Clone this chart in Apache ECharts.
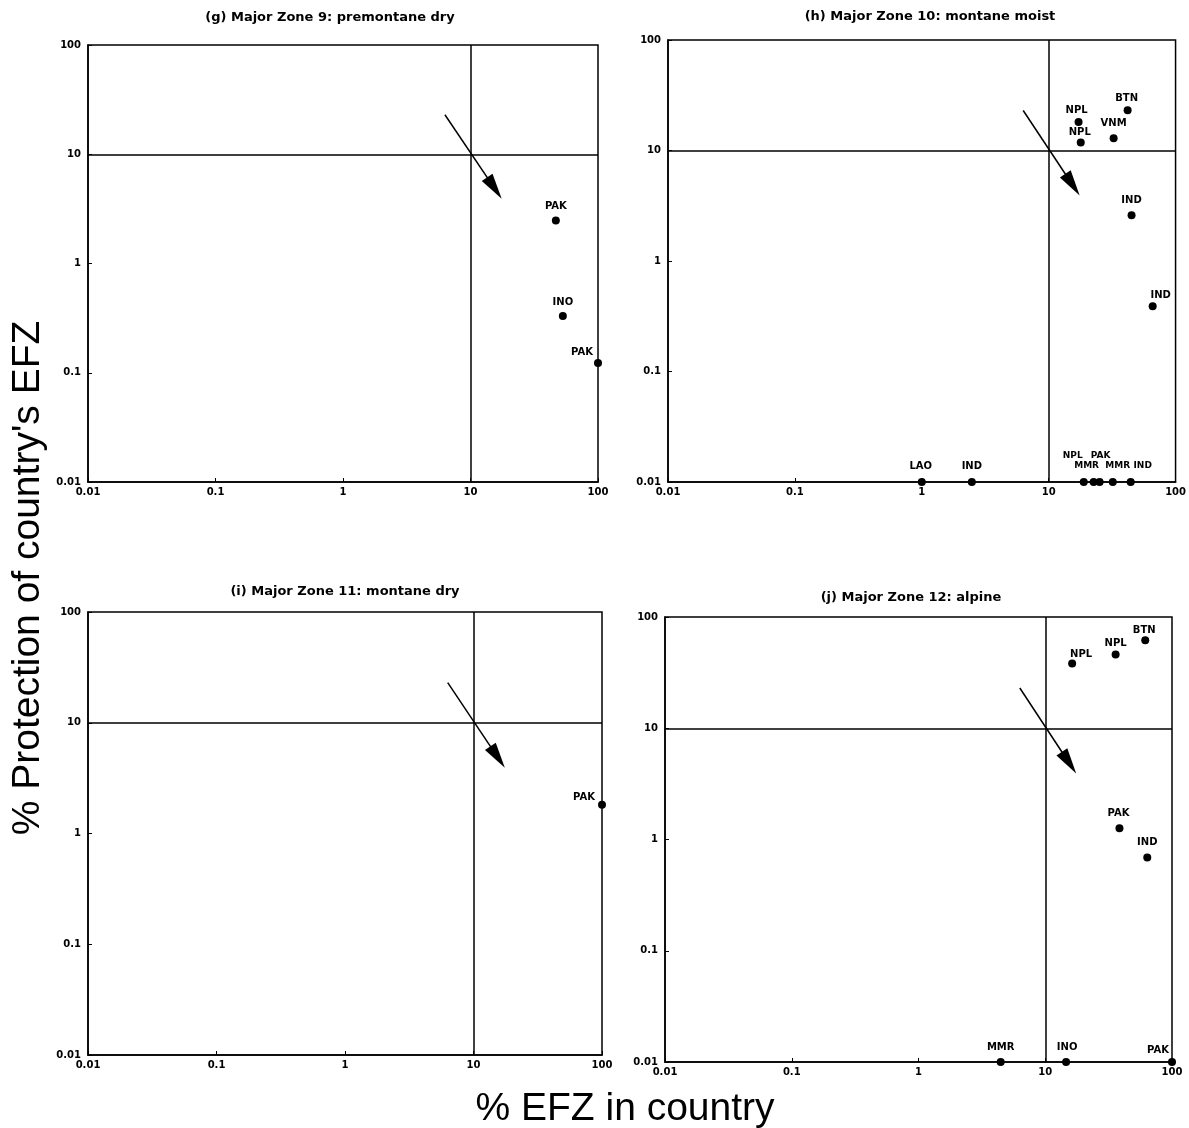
<!DOCTYPE html>
<html><head><meta charset="utf-8">
<script src="https://cdn.jsdelivr.net/npm/echarts@6/dist/echarts.min.js"></script>
<style>html,body{margin:0;padding:0;background:#fff}#c{width:1189px;height:1128px}</style>
</head><body><div id="c"></div>
<script>
// ---- data ----
const tickLabels = ['0.01', '0.1', '1', '10', '100'];
const threshold = 10;
const arrowFrom = [6.3, 23];
const arrowTo = [15.4, 4.9];

const titles = ['(g) Major Zone 9: premontane dry', '(h) Major Zone 10: montane moist',
                '(i) Major Zone 11: montane dry', '(j) Major Zone 12: alpine'];

const gX = [46.7, 53, 100];
const gY = [2.47, 0.33, 0.123];
const gLabels = ['PAK', 'INO', 'PAK'];

const hX = [17.2, 17.9, 41.9, 32.5, 45, 66, 1, 2.48, 18.9, 22.6, 25.2, 32, 44.3];
const hY = [18.1, 11.8, 23.1, 12.9, 2.6, 0.39, 0.01, 0.01, 0.01, 0.01, 0.01, 0.01, 0.01];
const hLabels = ['NPL', 'NPL', 'BTN', 'VNM', 'IND', 'IND', 'LAO', 'IND', 'NPL', 'MMR', 'PAK', 'MMR', 'IND'];

const iX = [100];
const iY = [1.82];
const iLabels = ['PAK'];

const jX = [16.3, 35.9, 61.5, 38.5, 63.8, 4.45, 14.6, 100];
const jY = [38.2, 46.1, 61.7, 1.26, 0.69, 0.01, 0.01, 0.01];
const jLabels = ['NPL', 'NPL', 'BTN', 'PAK', 'IND', 'MMR', 'INO', 'PAK'];

// ---- layout / style (not data) ----
const grids = [
  {left: 88, top: 45, width: 510, height: 437},
  {left: 668, top: 40, width: 509, height: 442},
  {left: 88, top: 612, width: 514, height: 443},
  {left: 665, top: 617, width: 507, height: 445}
];
const titlePos = [[330, 18], [930, 17], [345, 592], [911, 598]];
const labelOffsets = [
  [[0, -14], [0, -14], [-16, -11]],
  [[-2, -12], [-1, -10], [-1, -12], [0, -15], [0, -15], [8, -11],
   [-1, -16], [0, -16], [-11, -26], [-7, -16], [1, -26], [5, -16], [12, -16]],
  [[-18, -7]],
  [[9, -9], [0, -11], [-1, -10], [-1, -15], [0, -15], [0, -15], [1, -15], [-14, -12]]
];
const panels = [[gX, gY, gLabels], [hX, hY, hLabels], [iX, iY, iLabels], [jX, jY, jLabels]];

const tickFont = {fontFamily: 'DejaVu Sans', fontWeight: 'bold', fontSize: 10, color: '#000'};
function fmt(v) {
  const k = Math.round(Math.log10(v)) + 2;
  return tickLabels[k] !== undefined ? tickLabels[k] : '';
}
function axis(idx, isX) {
  return {
    type: 'log', logBase: 10, min: 0.01, max: 100, gridIndex: idx,
    axisLine: {show: true, lineStyle: {color: '#000', width: 1.5}},
    axisTick: {show: true, inside: true, length: 4, lineStyle: {color: '#000', width: 1}},
    minorTick: {show: false},
    splitLine: {show: false},
    axisLabel: Object.assign({formatter: fmt, margin: isX ? 5 : 7, showMinLabel: true, showMaxLabel: true}, tickFont)
  };
}

const lineSt = {color: '#000', width: 1.5, type: 'solid'};
const series = panels.map((p, idx) => {
  const [xs, ys, labs] = p;
  const data = xs.map((x, k) => ({
    value: [x, ys[k]],
    label: {
      show: true, formatter: labs[k], position: 'inside', offset: labelOffsets[idx][k],
      fontFamily: 'DejaVu Sans', fontWeight: 'bold', fontSize: (idx === 1 && ys[k] <= 0.01 && xs[k] > 10) ? 9 : 10, color: '#000'
    }
  }));
  return {
    type: 'scatter', xAxisIndex: idx, yAxisIndex: idx, clip: false,
    symbol: 'circle', symbolSize: 8, itemStyle: {color: '#000', opacity: 1},
    data: data,
    markLine: {
      silent: true, animation: false, precision: 4,
      symbol: ['none', 'none'],
      label: {show: false},
      lineStyle: lineSt,
      data: [
        {xAxis: threshold},
        {yAxis: threshold},
        [{coord: arrowFrom, symbol: 'none'},
         {coord: arrowTo, symbol: 'triangle', symbolSize: [13, 26]}]
      ]
    }
  };
});

const graphics = titles.map((t, k) => ({
  type: 'text', x: titlePos[k][0], y: titlePos[k][1],
  style: {text: t, align: 'center', verticalAlign: 'middle', fontFamily: 'DejaVu Sans', fontWeight: 'bold', fontSize: 13, fill: '#000'}
}));
graphics.push({
  type: 'text', x: 28, y: 578, rotation: Math.PI / 2,
  style: {text: "% Protection of country's EFZ", align: 'center', verticalAlign: 'middle',
          fontFamily: 'Liberation Sans', fontSize: 39, fill: '#000'}
});
graphics.push({
  type: 'text', x: 625, y: 1109,
  style: {text: '% EFZ in country', align: 'center', verticalAlign: 'middle',
          fontFamily: 'Liberation Sans', fontSize: 39, fill: '#000'}
});

const chart = echarts.init(document.getElementById('c'), null, {renderer: 'canvas'});
chart.setOption({
  backgroundColor: '#fff',
  animation: false,
  grid: grids.map(g => Object.assign({show: true, borderColor: '#000', borderWidth: 1.5, containLabel: false}, g)),
  xAxis: grids.map((g, k) => axis(k, true)),
  yAxis: grids.map((g, k) => axis(k, false)),
  series: series,
  graphic: graphics
});
</script></body></html>
